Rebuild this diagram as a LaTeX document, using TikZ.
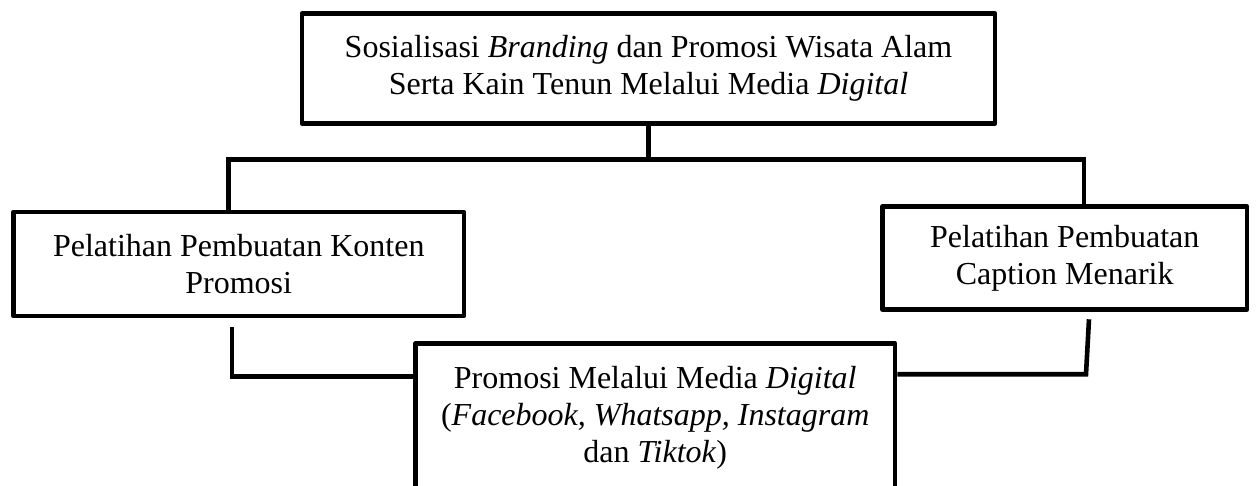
\documentclass[tikz,border=0pt]{standalone}
\usepackage{fontspec}
\setmainfont{Liberation Serif}
\usetikzlibrary{calc}
\begin{document}
\begin{tikzpicture}[x=0.5pt,y=-0.5pt,
  txt/.style={font=\fontsize{16pt}{18.4pt}\selectfont, align=center, inner sep=0pt},
  box/.style={txt, draw, line width=2.3pt, line join=round},
  link/.style={line width=2.3pt, line join=miter}]
\useasboundingbox (0,0) rectangle (1260,486);

% main activity
\node[box, minimum width=346.5pt, minimum height=54.75pt] (top) at (648.5,68.5)
  {Sosialisasi \textit{Branding} dan Promosi Wisata Alam\\Serta Kain Tenun Melalui Media \textit{Digital}};

% two training sessions
\node[box, minimum width=225.25pt, minimum height=52pt] (left) at (238.75,264)
  {Pelatihan Pembuatan Konten\\Promosi};
\node[box, minimum width=182.25pt, minimum height=51.5pt] (right) at (1064.75,258)
  {Pelatihan Pembuatan\\Caption Menarik};

% promotion outcome (runs past the lower edge)
\node[box, minimum width=239.75pt, minimum height=100pt, anchor=north] (bot) at (655.25,341) {};
\node[txt, anchor=north] (bottext) at ($(bot.north)+(0,25)$)
  {Promosi Melalui Media \textit{Digital}\\(\textit{Facebook, Whatsapp, Instagram}\\dan \textit{Tiktok})};

% branching connectors
\coordinate (bus) at (648.5,159.5);
\draw[link] (top.south) -- (bus);
\draw[link] ([xshift=-5.1pt]left.north) |- (bus) -| ([xshift=9.6pt]right.north);

% converging connectors
\draw[link] ($(left.south)+(-6.75,9)$) |- ($(bot.north west)+(0,35.5)$);
\coordinate (rc) at ($(right.south)+(21.25,62.5)$);
\draw[link] ($(right.south)+(24.25,7.5)$) -- (rc) -- (rc -| bot.east);
\end{tikzpicture}
\end{document}
